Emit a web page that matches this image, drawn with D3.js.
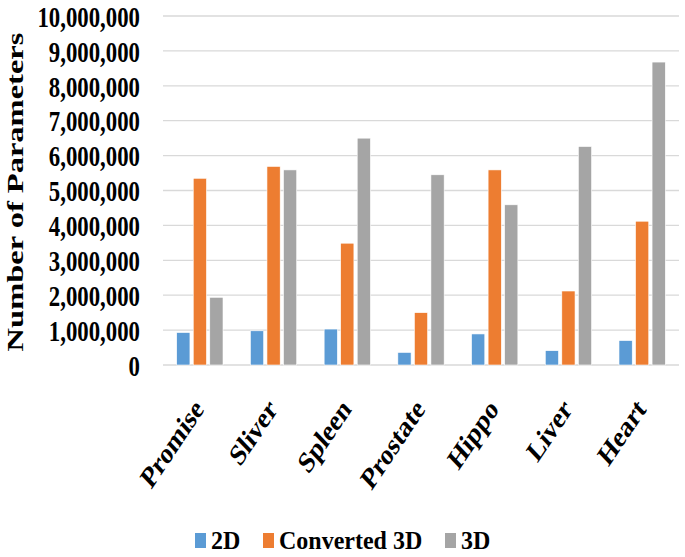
<!DOCTYPE html>
<html>
<head>
<meta charset="utf-8">
<script src="https://cdn.jsdelivr.net/npm/d3@7"></script>
<style>
  html, body { margin: 0; padding: 0; background: #fff; }
  svg { display: block; }
</style>
</head>
<body>
<svg id="chart" width="685" height="557"></svg>
<script>
const categories = ["Promise", "Sliver", "Spleen", "Prostate", "Hippo", "Liver", "Heart"];
const seriesNames = ["2D", "Converted 3D", "3D"];
const values2D = [930000, 980000, 1030000, 360000, 890000, 410000, 700000];
const valuesConverted3D = [5350000, 5690000, 3490000, 1500000, 5590000, 2120000, 4120000];
const values3D = [1940000, 5590000, 6500000, 5450000, 4590000, 6260000, 8680000];
const yTicks = [0, 1000000, 2000000, 3000000, 4000000, 5000000, 6000000, 7000000, 8000000, 9000000, 10000000];
const colors = ["#5b9bd5", "#ed7d31", "#a5a5a5"];
const yTitle = "Number of Parameters";

const FONT = '"Liberation Serif", "Times New Roman", "DejaVu Serif", serif';
const seriesValues = [values2D, valuesConverted3D, values3D];
const svg = d3.select("#chart");

const plotLeft = 163, plotRight = 679, plotTop = 16, plotBottom = 365;

const y = d3.scaleLinear().domain([0, 10000000]).range([plotBottom, plotTop]);
const x0 = d3.scaleBand().domain(categories).range([plotLeft, plotRight])
  .paddingInner(0.372).paddingOuter(0.186);
const x1 = d3.scaleBand().domain(seriesNames).range([0, x0.bandwidth()])
  .paddingInner(0.2).paddingOuter(0);

// gridlines
svg.append("g").selectAll("line").data(yTicks).join("line")
  .attr("x1", plotLeft).attr("x2", plotRight)
  .attr("y1", d => y(d)).attr("y2", d => y(d))
  .attr("stroke", "#d9d9d9").attr("stroke-width", 1.3);

// bars
const groups = svg.append("g").selectAll("g").data(categories).join("g")
  .attr("transform", c => `translate(${x0(c)},0)`);
groups.selectAll("rect")
  .data((c, i) => seriesNames.map((s, j) => ({ s, j, v: seriesValues[j][i] })))
  .join("rect")
  .attr("x", d => x1(d.s))
  .attr("width", x1.bandwidth())
  .attr("y", d => y(d.v))
  .attr("height", d => y(0) - y(d.v))
  .attr("fill", d => colors[d.j])
  .attr("stroke", "#fff").attr("stroke-width", 0.6);

// y axis
const yAxis = svg.append("g").attr("transform", "translate(140,0)")
  .call(d3.axisLeft(y).tickValues(yTicks).tickSize(0).tickPadding(0)
    .tickFormat(d3.format(",")));
yAxis.attr("font-family", null).attr("font-size", null);
yAxis.select(".domain").remove();
yAxis.selectAll("text")
  .attr("x", 0).attr("dy", "0.36em")
  .style("font-family", FONT).style("font-weight", "bold")
  .style("font-size", "28.5px").style("fill", "#000")
  .attr("transform", "scale(0.8,1)");

// x axis
const xAxis = svg.append("g").attr("transform", `translate(0,${plotBottom})`)
  .call(d3.axisBottom(x0).tickSize(0).tickPadding(0));
xAxis.attr("font-family", null).attr("font-size", null);
xAxis.select(".domain").remove();
xAxis.selectAll("text")
  .attr("x", 0).attr("y", 0).attr("dy", 0)
  .style("font-family", FONT).style("font-weight", "bold")
  .style("font-size", "30px").style("fill", "#000")
  .attr("text-anchor", "end")
  .attr("transform", "translate(5,45) scale(0.8,1) rotate(-50)");

// y title
svg.append("text")
  .attr("transform", "translate(15,192) rotate(-90) scale(1,0.74)")
  .attr("text-anchor", "middle")
  .attr("dy", "0.35em")
  .style("font-family", FONT).style("font-weight", "bold")
  .style("font-size", "32.5px")
  .text(yTitle);

// legend
const legendX = [195, 263, 445];
const legend = svg.append("g").selectAll("g").data(seriesNames).join("g")
  .attr("transform", (d, i) => `translate(${legendX[i]},533)`);
legend.append("rect").attr("width", 11).attr("height", 15)
  .attr("fill", (d, i) => colors[i]);
legend.append("text")
  .attr("transform", "translate(16,16) scale(0.96,1)")
  .style("font-family", FONT).style("font-weight", "bold")
  .style("font-size", "25px")
  .text(d => d);
</script>
</body>
</html>
